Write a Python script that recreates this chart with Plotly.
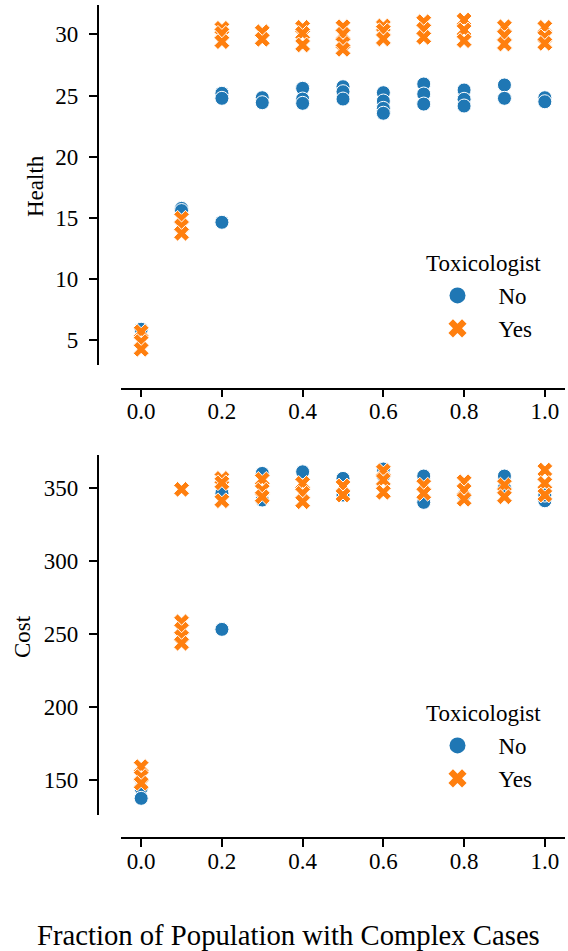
import plotly.graph_objects as go

# ---------------- data ----------------
health_no_x = [0.0, 0.1, 0.1, 0.2, 0.2, 0.2, 0.3, 0.3, 0.4, 0.4, 0.4, 0.5, 0.5, 0.5,
               0.6, 0.6, 0.6, 0.6, 0.7, 0.7, 0.7, 0.8, 0.8, 0.8, 0.9, 0.9, 1.0, 1.0]
health_no_y = [5.9, 15.78, 15.6, 14.64, 25.18, 24.77, 24.82, 24.41, 25.59, 24.71, 24.36,
               25.72, 25.31, 24.71, 25.23, 24.55, 23.95, 23.55, 25.94, 25.12, 24.30,
               25.45, 24.69, 24.14, 25.86, 24.77, 24.82, 24.49]

health_yes_x = [0.0, 0.0, 0.0, 0.1, 0.1, 0.1, 0.2, 0.2, 0.2, 0.3, 0.3, 0.4, 0.4, 0.4,
                0.5, 0.5, 0.5, 0.5, 0.6, 0.6, 0.6, 0.7, 0.7, 0.7, 0.8, 0.8, 0.8,
                0.9, 0.9, 0.9, 1.0, 1.0, 1.0]
health_yes_y = [5.70, 4.89, 4.26, 14.97, 14.34, 13.74, 30.49, 30.08, 29.40, 30.21, 29.59,
                30.57, 30.08, 29.13, 30.62, 30.0, 29.26, 28.77, 30.68, 30.3, 29.62,
                31.03, 30.41, 29.75, 31.17, 30.35, 29.48, 30.62, 29.89, 29.21,
                30.57, 29.8, 29.26]

cost_no_x = [0.0, 0.0, 0.2, 0.2, 0.3, 0.3, 0.4, 0.5, 0.5, 0.6, 0.6, 0.7, 0.7,
             0.8, 0.9, 0.9, 1.0, 1.0]
cost_no_y = [144.4, 137.5, 253.1, 346.2, 359.8, 341.6, 360.9, 356.4, 345.0, 362.8, 358.0,
             358.0, 340.0, 345.0, 358.0, 350.0, 341.1, 345.0]

cost_yes_x = [0.0, 0.0, 0.0, 0.1, 0.1, 0.1, 0.1, 0.1, 0.2, 0.2, 0.2, 0.3, 0.3, 0.3,
              0.4, 0.4, 0.4, 0.5, 0.5, 0.6, 0.6, 0.6, 0.7, 0.7, 0.8, 0.8, 0.8,
              0.9, 0.9, 1.0, 1.0, 1.0]
cost_yes_y = [159.2, 152.4, 147.8, 348.9, 258.3, 253.2, 248.1, 243.6, 356.4, 353.4, 341.1,
              355.7, 348.4, 343.8, 353.0, 346.2, 340.4, 351.2, 345.0, 361.6, 355.3, 346.9,
              351.8, 346.2, 354.1, 348.4, 342.1, 351.8, 343.8, 362.1, 353.0, 345.0]

x_ticks = [0.0, 0.2, 0.4, 0.6, 0.8, 1.0]
health_ticks = [5, 10, 15, 20, 25, 30]
cost_ticks = [150, 200, 250, 300, 350]
groups = ["No", "Yes"]
legend_title = "Toxicologist"

# ---------------- style ----------------
W, H = 568, 951
FONT = "Liberation Serif"
BLUE, ORANGE = "#1f77b4", "#ff7f0e"


def px(p):
    return p / W


def py(p):
    return 1 - p / H


fig = go.Figure()

common_marker = dict(line=dict(color="white", width=1))


def add_panel(xs_no, ys_no, xs_yes, ys_yes, xa, ya, leg):
    fig.add_trace(go.Scatter(x=xs_no, y=ys_no, mode="markers", xaxis=xa, yaxis=ya,
                             marker=dict(symbol="circle", size=14, color=BLUE, **common_marker),
                             showlegend=False, hoverinfo="skip"))
    fig.add_trace(go.Scatter(x=xs_yes, y=ys_yes, mode="markers", xaxis=xa, yaxis=ya,
                             marker=dict(symbol="x", size=14, color=ORANGE, **common_marker),
                             showlegend=False, hoverinfo="skip"))
    # legend entries
    fig.add_trace(go.Scatter(x=[None], y=[None], mode="markers", xaxis=xa, yaxis=ya,
                             name=groups[0], legend=leg,
                             marker=dict(symbol="circle", size=16, color=BLUE)))
    fig.add_trace(go.Scatter(x=[None], y=[None], mode="markers", xaxis=xa, yaxis=ya,
                             name=groups[1], legend=leg,
                             marker=dict(symbol="x", size=16, color=ORANGE)))


add_panel(health_no_x, health_no_y, health_yes_x, health_yes_y, "x", "y", "legend")
add_panel(cost_no_x, cost_no_y, cost_yes_x, cost_yes_y, "x2", "y2", "legend2")

axis_common = dict(showgrid=False, zeroline=False, showline=True, linecolor="black",
                   linewidth=1.5, ticks="outside", ticklen=8, tickwidth=1.5,
                   tickcolor="black", tickfont=dict(family=FONT, size=23, color="black"))
x_common = dict(axis_common, ticklabelstandoff=-6)
y_common = dict(axis_common, ticklabelstandoff=6)

xdom = [px(121), px(565)]


def legend_cfg(top):
    return dict(x=px(416.5), y=py(top), xanchor="left", yanchor="top",
                bgcolor="rgba(0,0,0,0)", font=dict(family=FONT, size=23),
                itemwidth=72, tracegroupgap=0)


def text_ann(text, x, y, size=23, angle=0):
    return dict(text=text, x=px(x), y=py(y), xref="paper", yref="paper",
                xanchor="center", yanchor="middle", textangle=angle,
                showarrow=False, font=dict(family=FONT, size=size, color="black"))


fig.update_layout(
    width=W, height=H,
    margin=dict(l=0, r=0, t=0, b=0),
    paper_bgcolor="white", plot_bgcolor="white",
    font=dict(family=FONT, size=23, color="black"),
    xaxis=dict(domain=xdom, range=[-0.05, 1.05], anchor="free", position=py(388.5),
               tickvals=x_ticks, ticktext=[f"{v:.1f}" for v in x_ticks], **x_common),
    yaxis=dict(domain=[py(365), py(4.7)], range=[2.98, 32.42], anchor="free",
               position=px(97.7), tickvals=health_ticks, **y_common),
    xaxis2=dict(domain=xdom, range=[-0.05, 1.05], anchor="free", position=py(838.3),
                tickvals=x_ticks, ticktext=[f"{v:.1f}" for v in x_ticks], **x_common),
    yaxis2=dict(domain=[py(815), py(455)], range=[126.1, 372.4], anchor="free",
                position=px(97.7), tickvals=cost_ticks, **y_common),
    legend=legend_cfg(274),
    legend2=legend_cfg(724),
    annotations=[
        text_ann("Health", 35, 186, angle=-90),
        text_ann("Cost", 22.5, 636.5, angle=-90),
        text_ann(legend_title, 483, 263),
        text_ann(legend_title, 483, 713),
        text_ann("Fraction of Population with Complex Cases", 288.5, 934.5, size=28.7),
    ],
)

fig.write_html("out.html", config={"displayModeBar": False},
               post_script="document.body.style.margin='0';document.body.style.overflow='hidden';")
